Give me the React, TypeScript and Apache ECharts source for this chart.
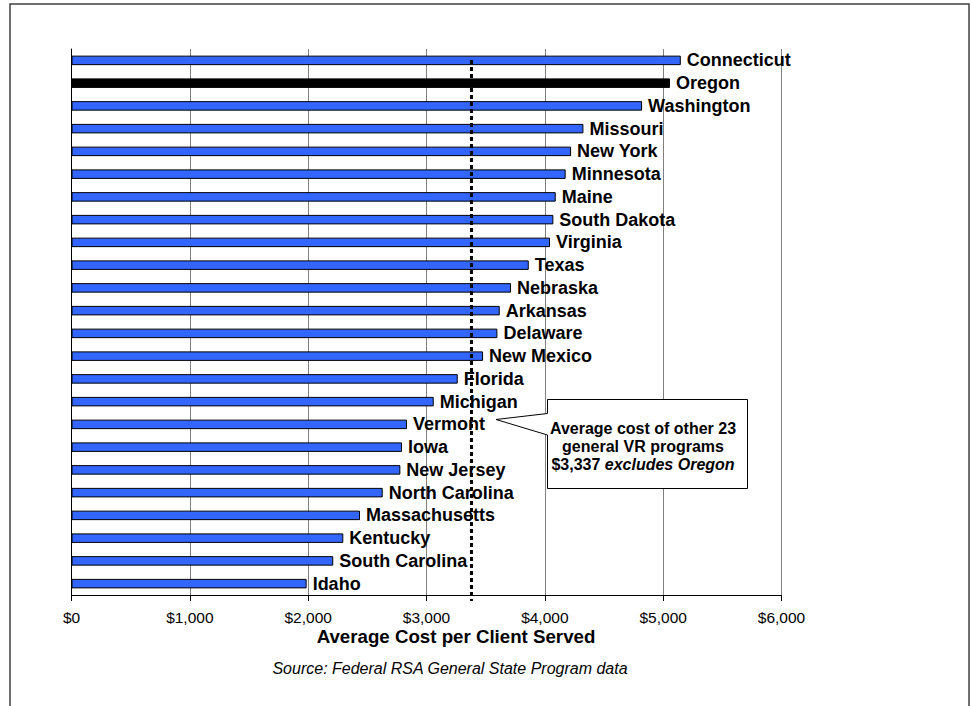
import React, { useEffect, useRef } from "react";
import * as echarts from "echarts";

const states = [
  "Connecticut", "Oregon", "Washington", "Missouri", "New York", "Minnesota",
  "Maine", "South Dakota", "Virginia", "Texas", "Nebraska", "Arkansas",
  "Delaware", "New Mexico", "Florida", "Michigan", "Vermont", "Iowa",
  "New Jersey", "North Carolina", "Massachusetts", "Kentucky", "South Carolina", "Idaho",
];
const costs = [
  5149, 5058, 4822, 4326, 4222, 4176,
  4092, 4072, 4044, 3864, 3714, 3619,
  3599, 3478, 3264, 3061, 2835, 2793,
  2779, 2630, 2438, 2297, 2212, 1987,
];
const highlightState = "Oregon";
const averageLine = 3380;
const xTicks = [0, 1000, 2000, 3000, 4000, 5000, 6000];
const axisTitle = "Average Cost per Client Served";
const sourceNote = "Source: Federal RSA General State Program data";
const calloutLines = ["Average cost of other 23", "general VR programs", "$3,337 "];
const calloutItalic = "excludes Oregon";

const FONT = "'Liberation Sans', Arial, sans-serif";

function fmt(v: number) {
  return "$" + String(v).replace(/\B(?=(\d{3})+(?!\d))/g, ",");
}

export default function App() {
  const ref = useRef<HTMLDivElement>(null);
  useEffect(() => {
    if (!ref.current) return;
    const chart = echarts.init(ref.current, null, { renderer: "svg" });
    chart.setOption({
      animation: false,
      backgroundColor: "#ffffff",
      grid: { left: 71.5, right: 189.5, top: 49, bottom: 111, containLabel: false },
      xAxis: {
        type: "value",
        min: xTicks[0],
        max: xTicks[xTicks.length - 1],
        interval: 1000,
        axisLine: { show: true, lineStyle: { color: "#000", width: 1 } },
        axisTick: { show: true, length: 6, lineStyle: { color: "#000" } },
        splitLine: { show: true, lineStyle: { color: "#808080", width: 1 } },
        axisLabel: {
          margin: 14,
          color: "#000",
          fontFamily: FONT,
          fontSize: 15.5,
          formatter: (v: number) => fmt(v),
        },
      },
      yAxis: {
        type: "category",
        inverse: true,
        data: states,
        axisLine: { show: true, lineStyle: { color: "#000", width: 1 } },
        axisTick: { show: false },
        axisLabel: { show: false },
        splitLine: { show: false },
      },
      series: [
        {
          type: "bar",
          barWidth: 9.5,
          data: states.map((s, i) => ({
            value: costs[i],
            itemStyle: {
              color: s === highlightState ? "#000000" : "#3366ff",
              borderColor: "#000",
              borderWidth: 1,
            },
          })),
          label: {
            show: true,
            position: "right",
            distance: 6,
            formatter: "{b}",
            color: "#000",
            fontFamily: FONT,
            fontWeight: "bold",
            fontSize: 18,
          },
        },
      ],
    });

    const ax = chart.convertToPixel({ xAxisIndex: 0 }, averageLine) as number;

    chart.setOption({
      graphic: [
        {
          type: "rect",
          shape: { x: 10, y: 4, width: 959, height: 730 },
          style: { fill: "none", stroke: "#404040", lineWidth: 1.5 },
          silent: true,
        },
        {
          type: "line",
          shape: { x1: ax, y1: 60, x2: ax, y2: 601 },
          style: { stroke: "#000", lineWidth: 3, lineDash: [4, 3] },
          z: 100,
        },
        {
          type: "polygon",
          shape: {
            points: [
              [547.5, 399.5], [747.5, 399.5], [747.5, 488.5], [547.5, 488.5],
              [547.5, 435], [496, 419.5], [547.5, 413.5],
            ],
          },
          style: { fill: "#fff", stroke: "#000", lineWidth: 1 },
          z: 101,
        },
        {
          type: "text",
          x: 643,
          y: 446.5,
          z: 102,
          style: {
            text:
              "{b|" + calloutLines[0] + "}\n{b|" + calloutLines[1] + "}\n{b|" +
              calloutLines[2] + "}{bi|" + calloutItalic + "}",
            align: "center",
            verticalAlign: "middle",
            lineHeight: 18,
            rich: {
              b: { fontFamily: FONT, fontWeight: "bold", fontSize: 16, fill: "#000", lineHeight: 18 },
              bi: { fontFamily: FONT, fontWeight: "bold", fontStyle: "italic", fontSize: 16, fill: "#000", lineHeight: 18 },
            },
          },
        },
        {
          type: "text",
          x: 456,
          y: 636,
          style: {
            text: axisTitle,
            align: "center",
            verticalAlign: "middle",
            fontFamily: FONT,
            fontWeight: "bold",
            fontSize: 18.7,
            fill: "#000",
          },
        },
        {
          type: "text",
          x: 450,
          y: 668,
          style: {
            text: sourceNote,
            align: "center",
            verticalAlign: "middle",
            fontFamily: FONT,
            fontStyle: "italic",
            fontSize: 16,
            fill: "#000",
          },
        },
      ],
    });

    return () => chart.dispose();
  }, []);
  return (
    <div
      ref={ref}
      style={{ position: "absolute", left: 0, top: 0, width: 971, height: 706 }}
    />
  );
}
